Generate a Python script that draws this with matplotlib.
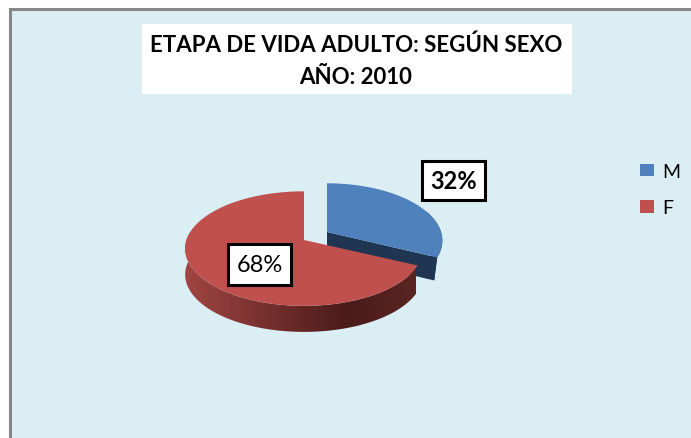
import numpy as np
import matplotlib.pyplot as plt
from matplotlib.colors import LinearSegmentedColormap
from matplotlib.patches import Patch, Polygon, Rectangle

plt.rcParams['font.family'] = ['Lato', 'DejaVu Sans']

title_lines = ['ETAPA DE VIDA ADULTO: SEGÚN SEXO', 'AÑO: 2010']
labels = ['M', 'F']
values = [32, 68]
colors = ['#4f81bd', '#c0504d']

fig = plt.figure(figsize=(6.91, 4.39), dpi=100)
ax = fig.add_axes([0, 0, 1, 1])
ax.set_xlim(0, 691)
ax.set_ylim(439, 0)
ax.axis('off')

# fondo y borde
ax.add_patch(Rectangle((10.5, 9.5), 690, 440, fc='#dbeef4', ec='#868686', lw=2.2))


# circulo en perspectiva: angulo desde las 12, en sentido horario
def arc(cx, cy, a, a0, a1, n=120):
    t = np.radians(np.linspace(a0, a1, n))
    u, v = np.sin(t), np.cos(t)
    k = 0.15
    return np.column_stack([cx + a * u / (1 + k * v),
                            cy - 56 * v / (1 + k * v)])


def wall(pts, depth):
    low = pts[::-1] + [0, depth]
    return np.vstack([pts, low])


ang_m = 360 * values[0] / sum(values)

# M (separado)
cm = (327, 233)
top_m = arc(*cm, 114, 0, ang_m)
tip_low = top_m[-1] + [-3, 23]
ax.add_patch(Polygon(np.vstack([top_m[70:], [tip_low]]), fc='#1f3552', ec='none'))
cut = np.array([cm, top_m[-1], tip_low, [cm[0], cm[1] + 23]])
ax.add_patch(Polygon(cut, fc='#1f3552', ec='none'))
ax.add_patch(Polygon(np.vstack([[cm], top_m]), fc=colors[0], ec='none'))

# F
cf = (304, 241)
top_f = arc(*cf, 117.5, ang_m, 360)
side = arc(*cf, 117.5, ang_m, 278)
clip = Polygon(wall(side, 26), fc='none', ec='none')
ax.add_patch(clip)
cmap = LinearSegmentedColormap.from_list('lado', [(0, '#a04543'), (0.3, '#7c3331'),
                                                  (0.7, '#4a1b19'), (1, '#5a2523')])
im = ax.imshow(np.linspace(0, 1, 256)[None, :], cmap=cmap, aspect='auto',
               extent=(185, 416, 340, 230), zorder=1)
im.set_clip_path(clip)
ax.set_xlim(0, 691)
ax.set_ylim(439, 0)
ax.add_patch(Polygon(np.vstack([[cf], top_f]), fc=colors[1], ec='none', zorder=2))

# etiquetas de datos
boxes = [(422, 162, 63, 39), (228, 245, 63, 41)]
weights = ['bold', 'normal']
for box, val, w in zip(boxes, values, weights):
    x, y, bw, bh = box
    ax.add_patch(Rectangle((x, y), bw, bh, fc='white', ec='black', lw=2.2, zorder=3))
    ax.text(x + bw / 2, y + bh / 2, f'{val}%', ha='center', va='center',
            fontsize=17, fontweight=w, color='black', zorder=4)

# titulo
ax.add_patch(Rectangle((142, 25), 430, 70, fc='white', ec='none', zorder=3))
ax.text(356, 45, title_lines[0], ha='center', va='center', fontsize=16,
        fontweight='bold', color='black', zorder=4)
ax.text(356, 78, title_lines[1], ha='center', va='center', fontsize=16,
        fontweight='bold', color='black', zorder=4)

# leyenda
handles = [Patch(fc=c, ec='none') for c in colors]
ax.legend(handles, labels, loc='upper left', bbox_to_anchor=(640 / 691, 1 - 164 / 439),
          frameon=False, fontsize=14, handlelength=0.72, handleheight=0.62,
          labelspacing=1.0, handletextpad=0.4, borderpad=0, borderaxespad=0)

fig.savefig('out.png', dpi=100)
